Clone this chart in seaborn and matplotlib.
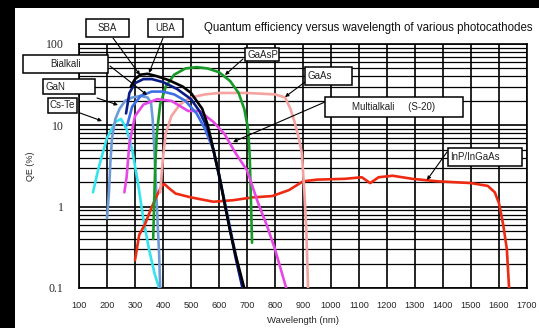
import numpy as np
import pandas as pd
import matplotlib
matplotlib.use("Agg")
import matplotlib.pyplot as plt
from matplotlib.patches import Rectangle
from matplotlib.ticker import FixedLocator, NullFormatter
import seaborn as sns

# ---------------- data ----------------
cste_wl = [150, 170, 200, 230, 250, 270, 290, 310, 330, 350, 370, 386]
cste_qe = [1.5, 3, 7, 11, 12, 9, 5, 2, 0.7, 0.3, 0.15, 0.1]

gan_wl = [200, 207, 212, 218, 230, 245, 265, 290, 320, 345, 357, 363, 368, 372, 376, 381, 386, 390]
gan_qe = [0.72, 1.5, 3.5, 7, 12, 16, 20, 22, 23, 22, 19, 12, 6, 3, 1.5, 0.6, 0.27, 0.1]

bialkali_wl = [272, 290, 320, 360, 400, 440, 480, 520, 550, 580, 600, 630, 660, 685]
bialkali_qe = [10, 17, 23, 26, 26, 24, 20, 14, 9, 5, 2.5, 0.8, 0.25, 0.1]

sba_wl = [268, 280, 300, 330, 360, 400, 450, 500, 530, 560, 580, 600, 620, 640, 660, 684]
sba_qe = [14, 25, 33, 37, 37, 34, 28, 21, 15, 9, 5, 2.4, 1.1, 0.5, 0.23, 0.1]

uba_wl = [285, 300, 320, 345, 380, 420, 470, 500, 540, 560, 580, 600, 620, 640, 660, 690]
uba_qe = [30, 37, 42, 43, 40, 36, 30, 25, 16, 10, 5, 2.5, 1.1, 0.5, 0.25, 0.1]

multi_wl = [262, 270, 280, 300, 330, 380, 430, 490, 530, 580, 620, 660, 700, 740, 770, 800, 840]
multi_qe = [1.5, 2.3, 6, 13, 18, 21, 20, 15, 15, 11, 7.8, 4.5, 2.8, 1.1, 0.6, 0.3, 0.1]

gaasp_wl = [365, 368, 372, 378, 390, 410, 440, 480, 520, 560, 600, 640, 670, 690, 704, 710, 714, 718]
gaasp_qe = [0.4, 1, 3, 8, 18, 30, 42, 50, 52, 50, 45, 35, 25, 16, 9, 4, 1.2, 0.36]

gaas_wl = [390, 400, 410, 430, 460, 500, 550, 600, 700, 800, 836, 855, 870, 885, 896, 905, 912, 918]
gaas_qe = [1.5, 4, 8, 13, 18, 22, 24, 25, 25, 24, 22, 16, 11, 7, 4.5, 1.5, 0.5, 0.1]

inp_wl = [300, 315, 335, 355, 375, 395, 405, 420, 445, 500, 580, 650, 720, 790, 850, 900, 950,
          1050, 1110, 1140, 1170, 1220, 1290, 1380, 1500, 1560, 1585, 1600, 1615, 1628, 1636]
inp_qe = [0.22, 0.45, 0.6, 0.9, 1.3, 1.8, 1.9, 1.7, 1.45, 1.3, 1.15, 1.2, 1.3, 1.35, 1.6, 2.05, 2.15,
          2.2, 2.3, 1.95, 2.3, 2.4, 2.2, 2.05, 1.95, 1.8, 1.5, 1.1, 0.6, 0.3, 0.1]

x_ticks = [100, 200, 300, 400, 500, 600, 700, 800, 900, 1000, 1100, 1200, 1300, 1400, 1500, 1600, 1700]
y_ticks = [0.1, 1, 10, 100]
y_tick_labels = ["0.1", "1", "10", "100"]

series = [
    ("Cs-Te", cste_wl, cste_qe, "#35e3ef"),
    ("GaN", gan_wl, gan_qe, "#6d9bd8"),
    ("InP/InGaAs", inp_wl, inp_qe, "#ee2a12"),
    ("GaAs", gaas_wl, gaas_qe, "#f4a3a0"),
    ("GaAsP", gaasp_wl, gaasp_qe, "#189a28"),
    ("Multialkali", multi_wl, multi_qe, "#e648e6"),
    ("Bialkali", bialkali_wl, bialkali_qe, "#3d6fe6"),
    ("SBA", sba_wl, sba_qe, "#0b1c86"),
    ("UBA", uba_wl, uba_qe, "#000000"),
]

# ---------------- figure ----------------
sns.set_style("white")
plt.rcParams["font.family"] = ["Liberation Sans", "DejaVu Sans"]

W, H = 539, 328
fig = plt.figure(figsize=(W / 100, H / 100), dpi=100)
fig.patch.set_facecolor("white")

L, R, T, B = 79, 527, 44, 288
ax = fig.add_axes([L / W, 1 - B / H, (R - L) / W, (B - T) / H])

for name, wl, qe, col in series:
    df = pd.DataFrame({"wl": wl, "qe": qe})
    sns.lineplot(data=df, x="wl", y="qe", ax=ax, color=col, lw=1.9,
                 sort=False, estimator=None, legend=False, zorder=3)

ax.set_yscale("log")
ax.set_xlim(100, 1700)
ax.set_ylim(0.1, 100)
ax.xaxis.set_major_locator(FixedLocator(x_ticks))
ax.set_xticklabels([str(v) for v in x_ticks], fontsize=6.6)
ax.yaxis.set_major_locator(FixedLocator(y_ticks))
ax.set_yticklabels(y_tick_labels, fontsize=8.5, family="Liberation Serif")
minor = [m * 10.0 ** e for e in (-1, 0, 1) for m in range(2, 10)]
ax.yaxis.set_minor_locator(FixedLocator(minor))
ax.yaxis.set_minor_formatter(NullFormatter())
ax.tick_params(which="both", length=0)
ax.tick_params(axis="y", pad=11)
ax.tick_params(axis="x", pad=9)
ax.grid(which="major", color="black", lw=1.2, zorder=1)
ax.grid(which="minor", axis="y", color="black", lw=0.9, zorder=1)
ax.set_axisbelow(True)
for s in ax.spines.values():
    s.set_color("black")
    s.set_linewidth(1.2)
    s.set_visible(True)

ax.set_xlabel("Wavelength (nm)", fontsize=6.8, labelpad=5)
ax.set_ylabel("QE (%)", fontsize=6.5, labelpad=8)

# black frame bands
fig.add_artist(Rectangle((0, 1 - 8 / H), 1, 8 / H, transform=fig.transFigure,
                         facecolor="black", edgecolor="none", zorder=5))
fig.add_artist(Rectangle((0, 0), 15 / W, 1, transform=fig.transFigure,
                         facecolor="black", edgecolor="none", zorder=5))

fig.text(204 / W, 1 - 28 / H, "Quantum efficiency versus wavelength of various photocathodes",
         fontsize=8.3, ha="left", va="center", color="#111111")

# labelled boxes: (text, x0, y0, x1, y1, align)
boxes = [
    ("SBA", 86, 19, 129, 37, "center"),
    ("UBA", 148, 19, 183, 37, "center"),
    ("Bialkali", 23, 55, 108, 73, "center"),
    ("GaN", 43, 79, 95, 94, "left"),
    ("Cs-Te", 48, 98, 77, 113, "left"),
    ("GaAsP", 245, 48, 279, 61, "left"),
    ("GaAs", 305, 67, 352, 85, "left"),
    ("Multialkali     (S-20)", 325, 97, 463, 117, "center"),
    ("InP/InGaAs", 448, 148, 522, 166, "left"),
]
for txt, x0, y0, x1, y1, al in boxes:
    fig.add_artist(Rectangle((x0 / W, 1 - y1 / H), (x1 - x0) / W, (y1 - y0) / H,
                             transform=fig.transFigure, facecolor="white",
                             edgecolor="black", lw=1.1, zorder=6))
    if al == "center":
        tx, ha = (x0 + x1) / 2 / W, "center"
    else:
        tx, ha = (x0 + 2) / W, "left"
    fig.text(tx, 1 - (y0 + y1) / 2 / H, txt, fontsize=7, ha=ha, va="center",
             color="#222222", zorder=7)

# leader arrows (pixel coordinates of the picture, y from top)
arrows = [
    ((113, 38), (140, 75)),
    ((163, 38), (149, 73)),
    ((110, 66), (147, 95)),
    ((97, 98), (118, 105)),
    ((80, 113), (102, 121)),
    ((243, 59), (225, 75)),
    ((305, 82), (285, 97)),
    ((325, 102), (233, 142)),
    ((447, 152), (427, 180)),
]
for (sx, sy), (ex, ey) in arrows:
    ax.annotate("", xy=(ex, H - ey), xycoords="figure pixels",
                xytext=(sx, H - sy), textcoords="figure pixels",
                arrowprops=dict(arrowstyle="-|>", color="black", lw=0.8,
                                mutation_scale=5, shrinkA=0, shrinkB=0),
                zorder=8, annotation_clip=False)

fig.savefig("out.png", dpi=100)
